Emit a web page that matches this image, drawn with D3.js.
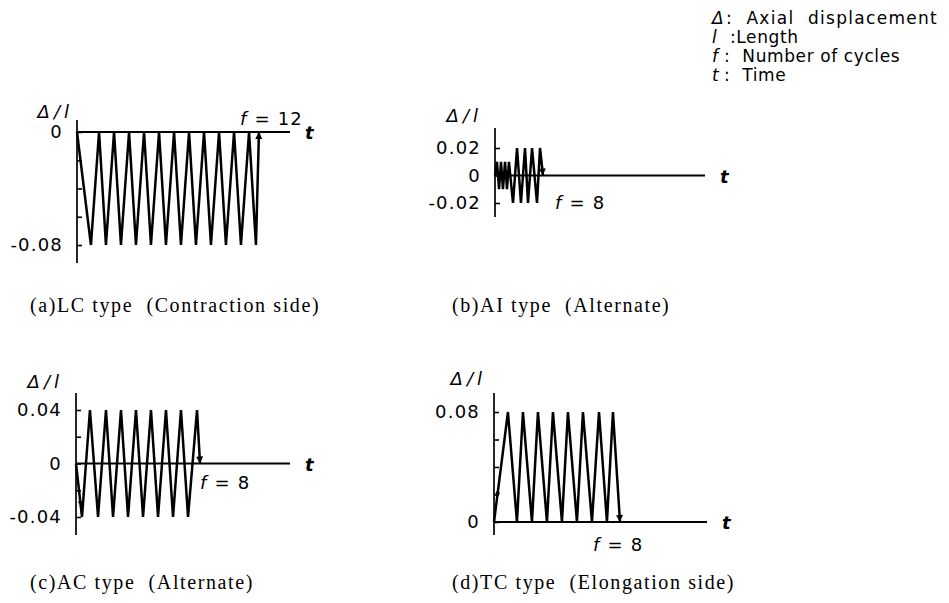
<!DOCTYPE html>
<html>
<head>
<meta charset="utf-8">
<script src="https://cdn.jsdelivr.net/npm/d3@7/dist/d3.min.js"></script>
<style>
  body { margin: 0; background: #fff; }
  text { fill: #000; }
  .num { font-family: "DejaVu Sans", sans-serif; font-size: 18px; letter-spacing: 1.2px; }
  .cap { font-family: "Liberation Serif", serif; font-size: 20px; letter-spacing: 1.6px; white-space: pre; }
  .leg { font-family: "DejaVu Sans", sans-serif; font-size: 17px; letter-spacing: 0.6px; white-space: pre; }
  .it { font-style: italic; }
</style>
</head>
<body>
<div id="chart"></div>
<script>
// time in arbitrary units, displacement ratio Δ/l
const aT = [0, 0.93, 1.47, 1.93, 2.47, 2.93, 3.47, 3.93, 4.47, 4.93, 5.47, 5.93, 6.47, 6.93, 7.47, 7.93, 8.47, 8.93, 9.47, 9.93, 10.47, 10.93, 11.47, 11.93, 12.13];
const aV = [0, -0.08, 0, -0.08, 0, -0.08, 0, -0.08, 0, -0.08, 0, -0.08, 0, -0.08, 0, -0.08, 0, -0.08, 0, -0.08, 0, -0.08, 0, -0.08, 0];

const bT = [0, 0.13, 0.27, 0.4, 0.53, 0.67, 0.8, 0.93, 1.2, 1.47, 1.73, 2.0, 2.2, 2.47, 2.8, 3.0, 3.2];
const bV = [0, 0.01, -0.01, 0.01, -0.01, 0.01, -0.01, 0.01, -0.02, 0.02, -0.02, 0.02, -0.02, 0.02, -0.02, 0.02, 0];

const cT = [0, 0.4, 0.93, 1.47, 2.0, 2.47, 3.0, 3.47, 4.0, 4.47, 5.0, 5.47, 6.0, 6.47, 7.0, 7.47, 8.07, 8.27];
const cV = [0, -0.04, 0.04, -0.04, 0.04, -0.04, 0.04, -0.04, 0.04, -0.04, 0.04, -0.04, 0.04, -0.04, 0.04, -0.04, 0.04, 0];

const dT = [0, 0.93, 1.53, 1.93, 2.53, 2.93, 3.53, 3.93, 4.53, 4.93, 5.53, 5.93, 6.53, 7.0, 7.53, 7.93, 8.4];
const dV = [0, 0.08, 0, 0.08, 0, 0.08, 0, 0.08, 0, 0.08, 0, 0.08, 0, 0.08, 0, 0.08, 0];

const aTicks = [0, -0.02, -0.04, -0.06, -0.08], aLabels = [0, -0.08];
const bTicks = [0.02, 0, -0.02], bLabels = [0.02, 0, -0.02];
const cTicks = [0.04, 0.02, 0, -0.02, -0.04], cLabels = [0.04, 0, -0.04];
const dTicks = [0.08, 0.06, 0.04, 0.02, 0], dLabels = [0.08, 0];

const cycles = ['12', '8', '8', '8'];
const captions = ['(a)LC type  (Contraction side)', '(b)AI type  (Alternate)', '(c)AC type  (Alternate)', '(d)TC type  (Elongation side)'];
const legendSym = ['Δ', 'l', 'f', 't'];
const legendTxt = ['Axial  displacement', 'Length', 'Number of cycles', 'Time'];

const W = 949, H = 603;
const svg = d3.select('#chart').append('svg')
  .attr('width', W).attr('height', H);

const defs = svg.append('defs');
defs.append('marker')
  .attr('id', 'arr')
  .attr('viewBox', '0 0 10 10')
  .attr('refX', 10).attr('refY', 5)
  .attr('markerUnits', 'userSpaceOnUse')
  .attr('markerWidth', 12).attr('markerHeight', 7)
  .attr('orient', 'auto')
  .append('path').attr('d', 'M0,0L10,5L0,10Z').attr('fill', '#000');
defs.append('marker')
  .attr('id', 'arrS')
  .attr('viewBox', '0 0 10 10')
  .attr('refX', 10).attr('refY', 5)
  .attr('markerUnits', 'userSpaceOnUse')
  .attr('markerWidth', 8).attr('markerHeight', 5)
  .attr('orient', 'auto')
  .append('path').attr('d', 'M0,0L10,5L0,10Z').attr('fill', '#000');

const fmt = v => v === 0 ? '0' : d3.format('.2f')(v).replace('−', '-');

const panels = [
  { T: aT, V: aV, ticks: aTicks, labels: aLabels, x0: 77, x1: 290, tMax: 14.2, dom: [-0.08, 0], rng: [245, 132], axTop: 120, axBot: 263, dlx: 73, dly: 118, fx: 240, fy: 125, capX: 30, capY: 312, startArrow: 0 },
  { T: bT, V: bV, ticks: bTicks, labels: bLabels, x0: 495, x1: 705, tMax: 14.0, dom: [-0.02, 0.02], rng: [203, 148], axTop: 128, axBot: 217, dlx: 482, dly: 122, fx: 555, fy: 209, capX: 452, capY: 312, startArrow: 0 },
  { T: cT, V: cV, ticks: cTicks, labels: cLabels, x0: 76, x1: 290, tMax: 14.27, dom: [-0.04, 0.04], rng: [517, 410], axTop: 393, axBot: 535, dlx: 63, dly: 388, fx: 200, fy: 489, capX: 30, capY: 589, startArrow: 0.8 },
  { T: dT, V: dV, ticks: dTicks, labels: dLabels, x0: 494, x1: 707, tMax: 14.2, dom: [0, 0.08], rng: [522, 412], axTop: 393, axBot: 535, dlx: 486, dly: 385, fx: 593, fy: 551, capX: 452, capY: 589, startArrow: 0.3 }
];

panels.forEach((p, i) => {
  const x = d3.scaleLinear().domain([0, p.tMax]).range([p.x0, p.x1]);
  const y = d3.scaleLinear().domain(p.dom).range(p.rng);
  const g = svg.append('g');

  // vertical axis line
  g.append('line')
    .attr('x1', p.x0).attr('x2', p.x0)
    .attr('y1', p.axTop).attr('y2', p.axBot)
    .attr('stroke', '#000').attr('stroke-width', 1.7);

  const yAxis = d3.axisLeft(y)
    .tickValues(p.ticks)
    .tickSizeInner(-5).tickSizeOuter(0)
    .tickPadding(14)
    .tickFormat(v => p.labels.includes(v) ? fmt(v) : '');
  const ax = g.append('g').attr('transform', `translate(${p.x0},0)`).call(yAxis);
  ax.select('.domain').remove();
  ax.selectAll('.tick line').attr('stroke-width', 1.6);
  ax.selectAll('.tick text').attr('class', 'num').attr('font-size', null).attr('font-family', null);

  // time axis
  g.append('line')
    .attr('x1', x(0)).attr('x2', x(p.tMax))
    .attr('y1', y(0)).attr('y2', y(0))
    .attr('stroke', '#000').attr('stroke-width', 2);
  g.append('text').attr('class', 'num it')
    .attr('x', x(p.tMax) + 15).attr('y', y(0) + 7)
    .style('font-weight', 'bold')
    .text('t');

  // Δ/l label
  g.append('text').attr('class', 'num it')
    .attr('x', p.dlx).attr('y', p.dly)
    .attr('text-anchor', 'end')
    .style('letter-spacing', '4px')
    .text('Δ/l');

  // loading history
  const pts = p.T.map((t, k) => [t, p.V[k]]);
  const line = d3.line().x(d => x(d[0])).y(d => y(d[1]));
  g.append('path').datum(pts)
    .attr('d', line)
    .attr('fill', 'none').attr('stroke', '#000')
    .attr('stroke-width', 2.5).attr('stroke-linejoin', 'miter')
    .attr('marker-end', 'url(#arr)');

  // small direction arrow on the first stroke
  if (p.startArrow) {
    const f = p.startArrow;
    const mid = [pts[0][0] + f * (pts[1][0] - pts[0][0]), pts[0][1] + f * (pts[1][1] - pts[0][1])];
    g.append('path').datum([pts[0], mid])
      .attr('d', line)
      .attr('fill', 'none').attr('stroke', 'none')
      .attr('marker-end', 'url(#arrS)');
  }

  // cycle count
  const ft = g.append('text').attr('class', 'num').attr('x', p.fx).attr('y', p.fy);
  ft.append('tspan').attr('class', 'it').text('f');
  ft.append('tspan').text(' = ' + cycles[i]);

  // caption
  svg.append('text').attr('class', 'cap')
    .attr('x', p.capX).attr('y', p.capY)
    .text(captions[i]);
});

// legend
const lg = svg.append('g');
legendSym.forEach((s, k) => {
  const yy = 24 + k * 19;
  lg.append('text').attr('class', 'leg it').attr('x', 712).attr('y', yy).text(s);
  lg.append('text').attr('class', 'leg')
    .attr('x', k === 0 ? 726 : 724).attr('y', yy)
    .style('letter-spacing', k === 0 ? '1.3px' : null)
    .text((k === 1 ? ' :' : ':  ') + legendTxt[k]);
});
</script>
</body>
</html>
